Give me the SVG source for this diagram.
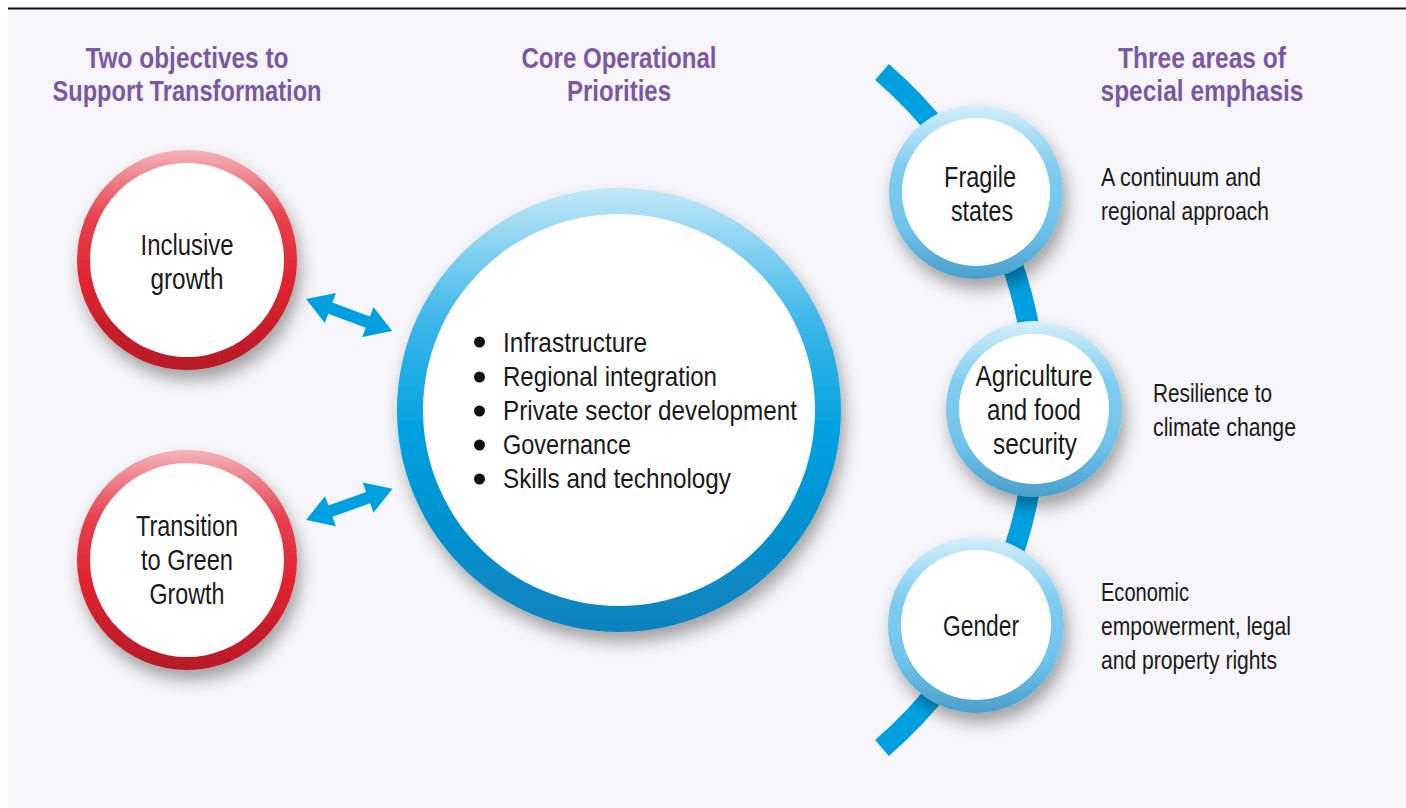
<svg xmlns="http://www.w3.org/2000/svg" width="1406" height="808" viewBox="0 0 1406 808">
<defs>
<linearGradient id="redRing" x1="0" y1="0" x2="0" y2="1">
<stop offset="0" stop-color="#f4b3b9"/>
<stop offset="0.3" stop-color="#e8434f"/>
<stop offset="0.6" stop-color="#e1222f"/>
<stop offset="1" stop-color="#b51c27"/>
</linearGradient>
<linearGradient id="blueRing" x1="0" y1="0" x2="0" y2="1">
<stop offset="0" stop-color="#c2e8f8"/>
<stop offset="0.3" stop-color="#3db6ea"/>
<stop offset="0.55" stop-color="#00a0e0"/>
<stop offset="1" stop-color="#0a82bd"/>
</linearGradient>
<linearGradient id="lightRing" x1="0" y1="0" x2="0" y2="1">
<stop offset="0" stop-color="#d4effb"/>
<stop offset="0.35" stop-color="#80cdf0"/>
<stop offset="0.7" stop-color="#6ec4ea"/>
<stop offset="1" stop-color="#4a9fcc"/>
</linearGradient>
<filter id="shadow" x="-30%" y="-30%" width="160%" height="170%">
<feDropShadow dx="4" dy="10" stdDeviation="8" flood-color="#000" flood-opacity="0.35"/>
</filter>
<polygon id="dblArrow" points="0,0 26,-16 26,-6 66,-6 66,-16 92,0 66,16 66,6 26,6 26,16" fill="#00a0e0"/>
</defs>
<style>
text{font-family:"Liberation Sans",Arial,sans-serif}
.head{font-weight:bold;font-size:29px;fill:#7b58a5;text-anchor:middle}
.lbl{font-size:29px;fill:#1a1a1a;text-anchor:middle}
.bul{font-size:28px;fill:#1a1a1a}
.note{font-size:25px;fill:#1a1a1a}
.inner{fill:#ffffff}
</style>
<rect x="0" y="0" width="1406" height="808" fill="#ffffff"/>
<rect x="8" y="9" width="1398" height="799" fill="#f6f6fa"/>
<line x1="8" y1="8.5" x2="1406" y2="8.5" stroke="#111" stroke-width="2"/>

<g id="headings">
<text class="head" x="187" y="68" textLength="203" lengthAdjust="spacingAndGlyphs">Two objectives to</text>
<text class="head" x="187" y="101" textLength="269" lengthAdjust="spacingAndGlyphs">Support Transformation</text>
<text class="head" x="619" y="68" textLength="195" lengthAdjust="spacingAndGlyphs">Core Operational</text>
<text class="head" x="619" y="101" textLength="104" lengthAdjust="spacingAndGlyphs">Priorities</text>
<text class="head" x="1202" y="68" textLength="168" lengthAdjust="spacingAndGlyphs">Three areas of</text>
<text class="head" x="1202" y="101" textLength="203" lengthAdjust="spacingAndGlyphs">special emphasis</text>
</g>

<g id="connectors">
<path d="M 882 72 A 447 447 0 0 1 882 748" stroke="#00a0e0" stroke-width="21" fill="none"/>
<use href="#dblArrow" transform="translate(306,299) rotate(20.4)"/>
<use href="#dblArrow" transform="translate(306,520) rotate(-19.8)"/>
</g>

<g id="inclusive-growth">
<circle cx="187" cy="260" r="110" fill="url(#redRing)" filter="url(#shadow)"/>
<circle class="inner" cx="187" cy="260" r="97"/>
<text class="lbl" x="187" y="255" textLength="93" lengthAdjust="spacingAndGlyphs">Inclusive</text>
<text class="lbl" x="187" y="289" textLength="73" lengthAdjust="spacingAndGlyphs">growth</text>
</g>

<g id="green-growth">
<circle cx="187" cy="560" r="110" fill="url(#redRing)" filter="url(#shadow)"/>
<circle class="inner" cx="187" cy="560" r="97"/>
<text class="lbl" x="187" y="536" textLength="102" lengthAdjust="spacingAndGlyphs">Transition</text>
<text class="lbl" x="187" y="570" textLength="92" lengthAdjust="spacingAndGlyphs">to Green</text>
<text class="lbl" x="187" y="604" textLength="75" lengthAdjust="spacingAndGlyphs">Growth</text>
</g>

<g id="core-priorities">
<circle cx="619" cy="410" r="222" fill="url(#blueRing)" filter="url(#shadow)"/>
<circle class="inner" cx="619" cy="410" r="196"/>
<circle cx="479.5" cy="342" r="5.5" fill="#111"/>
<circle cx="479.5" cy="377" r="5.5" fill="#111"/>
<circle cx="479.5" cy="411" r="5.5" fill="#111"/>
<circle cx="479.5" cy="445" r="5.5" fill="#111"/>
<circle cx="479.5" cy="479" r="5.5" fill="#111"/>
<text class="bul" x="503" y="352" textLength="144" lengthAdjust="spacingAndGlyphs">Infrastructure</text>
<text class="bul" x="503" y="386" textLength="214" lengthAdjust="spacingAndGlyphs">Regional integration</text>
<text class="bul" x="503" y="420" textLength="294" lengthAdjust="spacingAndGlyphs">Private sector development</text>
<text class="bul" x="503" y="454" textLength="128" lengthAdjust="spacingAndGlyphs">Governance</text>
<text class="bul" x="503" y="488" textLength="228" lengthAdjust="spacingAndGlyphs">Skills and technology</text>
</g>

<g id="fragile-states">
<circle cx="976" cy="192" r="87" fill="url(#lightRing)" filter="url(#shadow)"/>
<circle class="inner" cx="976" cy="192" r="74"/>
<text class="lbl" x="980" y="187" textLength="72" lengthAdjust="spacingAndGlyphs">Fragile</text>
<text class="lbl" x="982" y="221" textLength="62" lengthAdjust="spacingAndGlyphs">states</text>
<text class="note" x="1101" y="186" textLength="160" lengthAdjust="spacingAndGlyphs">A continuum and</text>
<text class="note" x="1101" y="220" textLength="168" lengthAdjust="spacingAndGlyphs">regional approach</text>
</g>

<g id="agriculture">
<circle cx="1034" cy="409" r="88" fill="url(#lightRing)" filter="url(#shadow)"/>
<circle class="inner" cx="1034" cy="409" r="75"/>
<text class="lbl" x="1034" y="386" textLength="117" lengthAdjust="spacingAndGlyphs">Agriculture</text>
<text class="lbl" x="1034" y="420" textLength="94" lengthAdjust="spacingAndGlyphs">and food</text>
<text class="lbl" x="1035" y="454" textLength="84" lengthAdjust="spacingAndGlyphs">security</text>
<text class="note" x="1153" y="402" textLength="119" lengthAdjust="spacingAndGlyphs">Resilience to</text>
<text class="note" x="1153" y="436" textLength="143" lengthAdjust="spacingAndGlyphs">climate change</text>
</g>

<g id="gender">
<circle cx="976" cy="625" r="88" fill="url(#lightRing)" filter="url(#shadow)"/>
<circle class="inner" cx="976" cy="625" r="75"/>
<text class="lbl" x="981" y="636" textLength="76" lengthAdjust="spacingAndGlyphs">Gender</text>
<text class="note" x="1101" y="601" textLength="88" lengthAdjust="spacingAndGlyphs">Economic</text>
<text class="note" x="1101" y="635" textLength="190" lengthAdjust="spacingAndGlyphs">empowerment, legal</text>
<text class="note" x="1101" y="669" textLength="176" lengthAdjust="spacingAndGlyphs">and property rights</text>
</g>
</svg>
